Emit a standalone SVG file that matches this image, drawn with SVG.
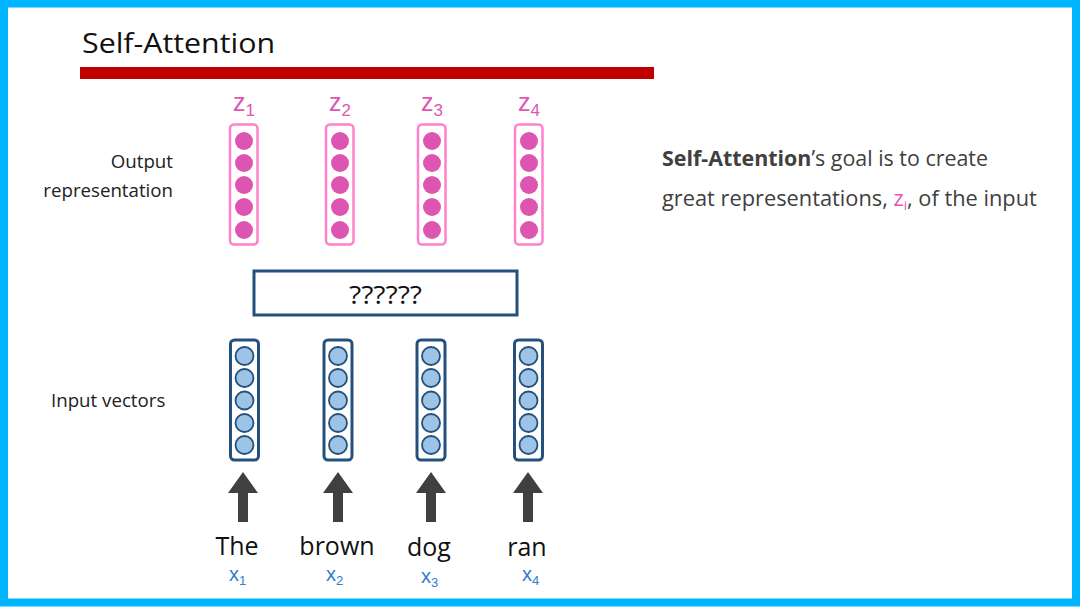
<svg xmlns="http://www.w3.org/2000/svg" width="1080" height="608" viewBox="0 0 1080 608">
<style>
text{font-family:"Open Sans","Liberation Sans",sans-serif;}
.out{fill:#fff;stroke:#FF80CC;stroke-width:2.5;}
.od{fill:#DD55B0;}
.inr{fill:#fff;stroke:#24507E;stroke-width:3;}
.id{fill:#9DC3E6;stroke:#24507E;stroke-width:1.8;}
.zl{fill:#E055B5;font-size:25px;font-family:"Liberation Sans",Arial,sans-serif;}
.xl{fill:#2E7BCF;font-size:20px;font-family:"Liberation Sans",Arial,sans-serif;}
.w{fill:#111;font-size:25px;text-anchor:middle;}
.lbl{fill:#222;font-size:18.7px;}
.arr{fill:#404040;}
</style>
<rect x="0" y="0" width="1080" height="608" fill="#fff"/>
<rect x="4" y="3.5" width="1072" height="599" fill="none" stroke="#00B5FF" stroke-width="8"/>
<text x="82" y="53" font-size="27" fill="#111" textLength="193" lengthAdjust="spacingAndGlyphs">Self-Attention</text>
<rect x="80" y="67" width="574" height="12" fill="#C00000"/>

<g id="labels">
<text class="lbl" x="173" y="168" text-anchor="end">Output</text>
<text class="lbl" x="173" y="197" text-anchor="end">representation</text>
<text class="lbl" x="51" y="407">Input vectors</text>
<text x="662" y="166" font-size="21" fill="#404040" textLength="326" lengthAdjust="spacingAndGlyphs"><tspan font-weight="bold">Self-Attention</tspan>’s goal is to create</text>
<text x="662" y="206" font-size="21.8" fill="#404040">great representations, <tspan fill="#E055B5">z</tspan><tspan fill="#E055B5" font-size="13" dy="4">i</tspan><tspan dy="-4">, of the input</tspan></text>
</g>

<g id="z1">
<text class="zl" x="233" y="111">z<tspan font-size="17" dy="5">1</tspan></text>
<rect class="out" x="230" y="124.5" width="27.5" height="120" rx="4"/>
<circle class="od" cx="244" cy="141" r="9"/><circle class="od" cx="244" cy="163" r="9"/><circle class="od" cx="244" cy="185" r="9"/><circle class="od" cx="244" cy="207" r="9"/><circle class="od" cx="244" cy="230" r="9"/>
</g>
<g id="z2">
<text class="zl" x="329" y="111">z<tspan font-size="17" dy="5">2</tspan></text>
<rect class="out" x="326" y="124.5" width="27.5" height="120" rx="4"/>
<circle class="od" cx="340" cy="141" r="9"/><circle class="od" cx="340" cy="163" r="9"/><circle class="od" cx="340" cy="185" r="9"/><circle class="od" cx="340" cy="207" r="9"/><circle class="od" cx="340" cy="230" r="9"/>
</g>
<g id="z3">
<text class="zl" x="421" y="111">z<tspan font-size="17" dy="5">3</tspan></text>
<rect class="out" x="418" y="124.5" width="27.5" height="120" rx="4"/>
<circle class="od" cx="432" cy="141" r="9"/><circle class="od" cx="432" cy="163" r="9"/><circle class="od" cx="432" cy="185" r="9"/><circle class="od" cx="432" cy="207" r="9"/><circle class="od" cx="432" cy="230" r="9"/>
</g>
<g id="z4">
<text class="zl" x="518" y="111">z<tspan font-size="17" dy="5">4</tspan></text>
<rect class="out" x="515" y="124.5" width="27.5" height="120" rx="4"/>
<circle class="od" cx="529" cy="141" r="9"/><circle class="od" cx="529" cy="163" r="9"/><circle class="od" cx="529" cy="185" r="9"/><circle class="od" cx="529" cy="207" r="9"/><circle class="od" cx="529" cy="230" r="9"/>
</g>

<g id="attn">
<rect x="254" y="271" width="263" height="44" fill="#fff" stroke="#24507E" stroke-width="3"/>
<text x="349" y="304" font-size="26" fill="#111" font-family="Liberation Sans, Arial, sans-serif" textLength="73" lengthAdjust="spacingAndGlyphs">??????</text>
</g>

<g id="x1">
<rect class="inr" x="230.5" y="340" width="28" height="120" rx="4"/>
<circle class="id" cx="244.5" cy="356" r="9"/><circle class="id" cx="244.5" cy="378" r="9"/><circle class="id" cx="244.5" cy="400.5" r="9"/><circle class="id" cx="244.5" cy="423" r="9"/><circle class="id" cx="244.5" cy="445" r="9"/>
<text class="w" x="237" y="555">The</text>
<text class="xl" x="229" y="581">x<tspan font-size="13" dy="4">1</tspan></text>
</g>
<g id="x2">
<rect class="inr" x="324" y="340" width="28" height="120" rx="4"/>
<circle class="id" cx="338" cy="356" r="9"/><circle class="id" cx="338" cy="378" r="9"/><circle class="id" cx="338" cy="400.5" r="9"/><circle class="id" cx="338" cy="423" r="9"/><circle class="id" cx="338" cy="445" r="9"/>
<text class="w" x="337" y="555">brown</text>
<text class="xl" x="326" y="581">x<tspan font-size="13" dy="4">2</tspan></text>
</g>
<g id="x3">
<rect class="inr" x="417" y="340" width="28" height="120" rx="4"/>
<circle class="id" cx="431" cy="356" r="9"/><circle class="id" cx="431" cy="378" r="9"/><circle class="id" cx="431" cy="400.5" r="9"/><circle class="id" cx="431" cy="423" r="9"/><circle class="id" cx="431" cy="445" r="9"/>
<text class="w" x="429" y="556">dog</text>
<text class="xl" x="421" y="583">x<tspan font-size="13" dy="4">3</tspan></text>
</g>
<g id="x4">
<rect class="inr" x="514.5" y="340" width="28" height="120" rx="4"/>
<circle class="id" cx="528.5" cy="356" r="9"/><circle class="id" cx="528.5" cy="378" r="9"/><circle class="id" cx="528.5" cy="400.5" r="9"/><circle class="id" cx="528.5" cy="423" r="9"/><circle class="id" cx="528.5" cy="445" r="9"/>
<text class="w" x="527" y="556">ran</text>
<text class="xl" x="522" y="581">x<tspan font-size="13" dy="4">4</tspan></text>
</g>

<g id="connectors">
<path class="arr" d="M243 472 L258 493 L248 493 L248 522 L238 522 L238 493 L228 493 Z"/>
<path class="arr" d="M338 472 L353 493 L343 493 L343 522 L333 522 L333 493 L323 493 Z"/>
<path class="arr" d="M431 472 L446 493 L436 493 L436 522 L426 522 L426 493 L416 493 Z"/>
<path class="arr" d="M528 472 L543 493 L533 493 L533 522 L523 522 L523 493 L513 493 Z"/>
</g>
</svg>
